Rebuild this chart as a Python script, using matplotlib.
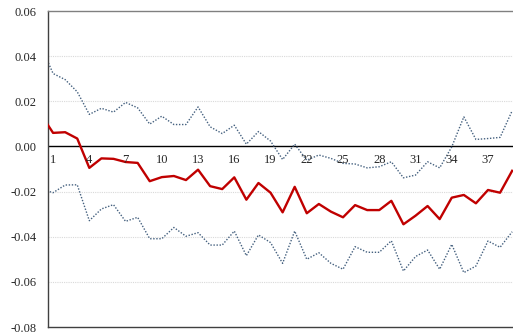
import numpy as np
import matplotlib.pyplot as plt

# values, index 0 is only partly visible at the left edge
period = np.arange(0, 40)
estimate = [0.0141, 0.0060, 0.0063, 0.0035, -0.0095, -0.0053, -0.0055, -0.0069, -0.0073, -0.0154,
            -0.0136, -0.0131, -0.0149, -0.0103, -0.0176, -0.0189, -0.0137, -0.0236, -0.0162, -0.0205,
            -0.0292, -0.0179, -0.0296, -0.0255, -0.0289, -0.0314, -0.0260, -0.0282, -0.0282, -0.0241,
            -0.0345, -0.0307, -0.0264, -0.0322, -0.0227, -0.0215, -0.0252, -0.0193, -0.0205, -0.0108]
upper = [0.0444, 0.0323, 0.0296, 0.0242, 0.0142, 0.0169, 0.0152, 0.0195, 0.0171, 0.0099,
         0.0134, 0.0097, 0.0097, 0.0175, 0.0087, 0.0057, 0.0094, 0.0010, 0.0066, 0.0024,
         -0.0058, 0.0010, -0.0061, -0.0038, -0.0053, -0.0075, -0.0078, -0.0095, -0.0090, -0.0068,
         -0.0139, -0.0127, -0.0068, -0.0095, -0.0002, 0.0131, 0.0031, 0.0035, 0.0040, 0.0158]
lower = [-0.0188, -0.0205, -0.0171, -0.0170, -0.0329, -0.0277, -0.0258, -0.0332, -0.0314, -0.0409,
         -0.0409, -0.0359, -0.0398, -0.0382, -0.0437, -0.0437, -0.0375, -0.0484, -0.0392, -0.0426,
         -0.0518, -0.0375, -0.0500, -0.0471, -0.0518, -0.0544, -0.0444, -0.0469, -0.0469, -0.0418,
         -0.0552, -0.0488, -0.0459, -0.0544, -0.0434, -0.0559, -0.0530, -0.0419, -0.0447, -0.0378]
xtick_pos = list(range(1, 38, 3))
yticks = [-0.08, -0.06, -0.04, -0.02, 0.00, 0.02, 0.04, 0.06]

plt.rcParams['font.family'] = ['Liberation Serif', 'DejaVu Serif']

fig = plt.figure(figsize=(5.13, 3.33), dpi=100)
ax = fig.add_axes([48 / 513, 6 / 333, 465 / 513, 316 / 333])

for y in [-0.06, -0.04, -0.02, 0.02, 0.04]:
    ax.axhline(y, color='#d9d9d9', lw=0.8, ls=(0, (1, 1)), zorder=0)
ax.axhline(0, color='black', lw=1.0, zorder=1)

ax.plot(period, upper, color='#44607f', lw=1.0, ls=(0, (1, 1.2)), zorder=2)
ax.plot(period, lower, color='#44607f', lw=1.0, ls=(0, (1, 1.2)), zorder=2)
ax.plot(period, estimate, color='#c00000', lw=1.7, zorder=3)

ax.set_xlim(0.58, 39.07)
ax.set_ylim(-0.08, 0.06)
ax.set_yticks(yticks)
ax.set_yticklabels(['{:.2f}'.format(v) for v in yticks], fontsize=9, color='#262626')
ax.tick_params(axis='y', length=0, pad=8)
ax.set_xticks([])

for p in xtick_pos:
    ax.text(p, -0.0035, str(p), ha='center', va='top', fontsize=9, color='#262626')

for side in ['left', 'bottom']:
    ax.spines[side].set_color('#404040')
    ax.spines[side].set_linewidth(1.0)
ax.spines['top'].set_color('#808080')
ax.spines['top'].set_linewidth(1.0)
ax.spines['right'].set_visible(False)

plt.savefig('out.png', dpi=100)
